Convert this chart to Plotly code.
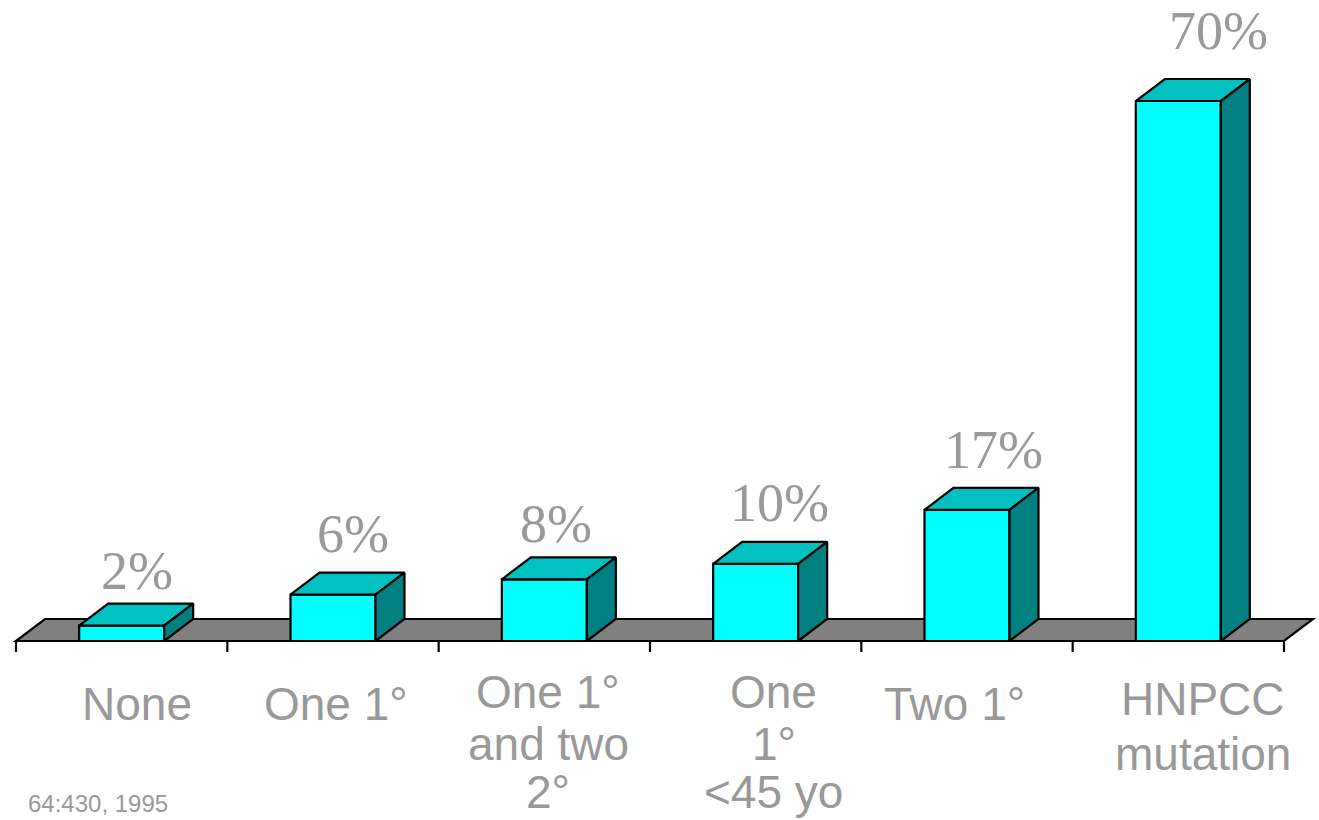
import plotly.graph_objects as go

# ---------------- data ----------------
categories = [
    ["None"],
    ["One 1°"],
    ["One 1°", "and two", "2°"],
    ["One", "1°", "<45 yo"],
    ["Two 1°"],
    ["HNPCC", "mutation"],
]
values = [2, 6, 8, 10, 17, 70]
value_labels = ["2%", "6%", "8%", "10%", "17%", "70%"]
citation = "64:430, 1995"

# ---------------- style / layout ----------------
W, H = 1319, 820
X0_PX, Y0_PX = 16, 641          # left end of floor front edge, baseline
SLOT_PX = 211.33                # pixels per category
PX_PER_UNIT = 7.714             # pixels per percent
BAR_W_PX = 85
DEPTH_DX_PX, DEPTH_DY_PX = 29, 22
TICK_LEN_PX = 11

FRONT = "#00FFFF"
TOP = "#00C0C0"
SIDE = "#008080"
FLOOR = "#808080"
TEXT_GRAY = "#999999"
EDGE = "black"
EDGE_W = 2.2

# nudges (pixels) for the hand-placed text boxes
value_label_dx = [15, 20, 12, 24, 27, 40]
value_label_gap = [13, 19, 13, 19, 18, 28]
cat_label_dx = [15, 3, 4, 18, -12, 25]
cat_baselines = [[720], [720], [708, 760, 808], [708, 760, 808], [720], [715, 770]]

n = len(values)
idx = list(range(n))

S = SLOT_PX
K = PX_PER_UNIT
DX = DEPTH_DX_PX / S
DY = DEPTH_DY_PX / K
BW = BAR_W_PX / S

x_range = [-0.5 - X0_PX / S, -0.5 + (W - X0_PX) / S]
y_range = [-(H - Y0_PX) / K, Y0_PX / K]

fig = go.Figure()

# front faces of the bars
fig.add_trace(go.Bar(
    x=idx, y=values, width=BW,
    marker=dict(color=FRONT, line=dict(color=EDGE, width=EDGE_W)),
    hoverinfo="skip", showlegend=False,
))

# top and side faces (computed from values)
for i, v in zip(idx, values):
    l, r = i - BW / 2, i + BW / 2
    fig.add_trace(go.Scatter(
        x=[l, r, r + DX, l + DX, l], y=[v, v, v + DY, v + DY, v],
        mode="lines", fill="toself", fillcolor=TOP,
        line=dict(color=EDGE, width=EDGE_W), hoverinfo="skip", showlegend=False,
    ))
    fig.add_trace(go.Scatter(
        x=[r, r + DX, r + DX, r, r], y=[0, DY, v + DY, v, 0],
        mode="lines", fill="toself", fillcolor=SIDE,
        line=dict(color=EDGE, width=EDGE_W), hoverinfo="skip", showlegend=False,
    ))

# axis ticks below floor front edge
tx, ty = [], []
for b in range(n + 1):
    xb = b - 0.5
    tx += [xb, xb, None]
    ty += [0, -TICK_LEN_PX / K, None]
fig.add_trace(go.Scatter(x=tx, y=ty, mode="lines",
                         line=dict(color=EDGE, width=EDGE_W),
                         hoverinfo="skip", showlegend=False))

# floor
fl, fr = -0.5, n - 0.5
fig.add_shape(
    type="path", xref="x", yref="y", layer="below",
    path=f"M {fl},0 L {fr},0 L {fr + DX},{DY} L {fl + DX},{DY} Z",
    fillcolor=FLOOR, line=dict(color=EDGE, width=EDGE_W),
)

annotations = []
# value labels
for i, v, t, dxp, gap in zip(idx, values, value_labels, value_label_dx, value_label_gap):
    annotations.append(dict(
        x=i + dxp / S, y=v + DY, xref="x", yref="y",
        text=t, showarrow=False, xanchor="center", yanchor="bottom",
        yshift=gap - 12,
        font=dict(family="Liberation Serif, Times New Roman, serif", size=54, color=TEXT_GRAY),
    ))

# category labels, one annotation per line
for i, lines, dxp, bases in zip(idx, categories, cat_label_dx, cat_baselines):
    for line, base in zip(lines, bases):
        annotations.append(dict(
            x=i + dxp / S, xref="x",
            y=1 - (base - 16) / H, yref="paper",
            text=line, showarrow=False, xanchor="center", yanchor="middle",
            font=dict(family="Liberation Sans, Arial, sans-serif", size=46, color=TEXT_GRAY),
        ))

# citation in the bottom-left corner
annotations.append(dict(
    x=170 / W, xref="paper", y=0.001, yref="paper",
    text=citation, showarrow=False, xanchor="right", yanchor="bottom",
    font=dict(family="Liberation Sans, Arial, sans-serif", size=24, color=TEXT_GRAY),
))

fig.update_layout(
    width=W, height=H, margin=dict(l=0, r=0, t=0, b=0),
    paper_bgcolor="white", plot_bgcolor="white",
    xaxis=dict(range=x_range, visible=False, fixedrange=True),
    yaxis=dict(range=y_range, visible=False, fixedrange=True),
    annotations=annotations, showlegend=False,
)

fig.write_html("out.html", config={"displayModeBar": False})
